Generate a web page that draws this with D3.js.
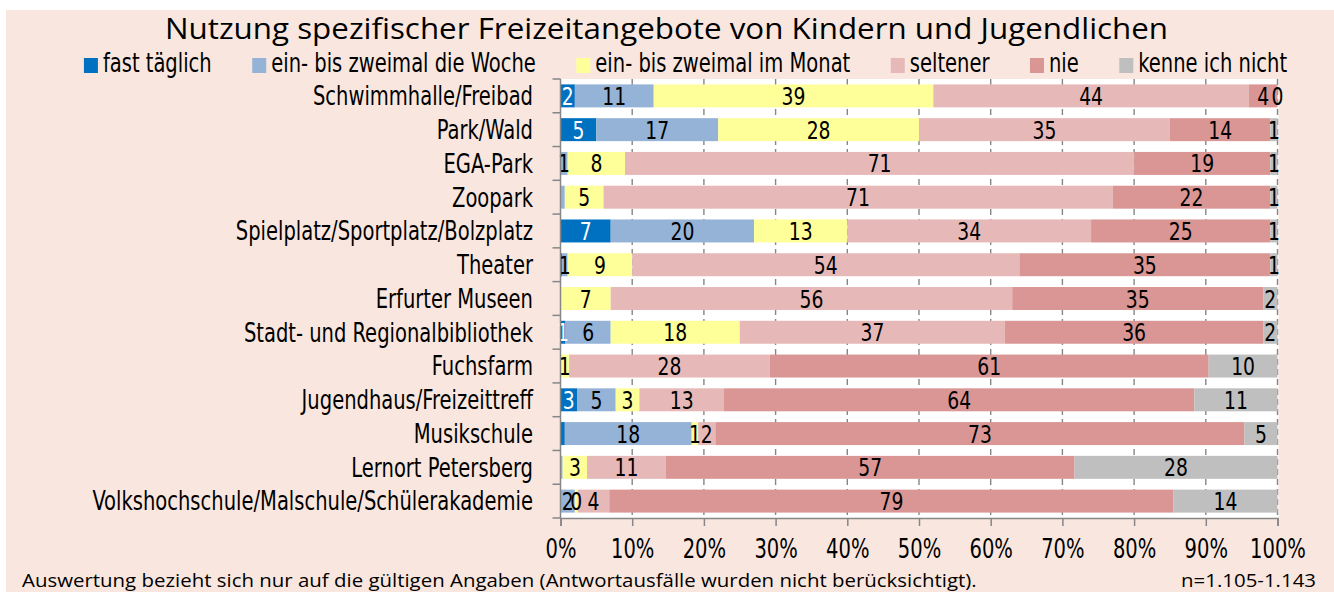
<!DOCTYPE html>
<html><head><meta charset="utf-8">
<script src="https://cdn.jsdelivr.net/npm/d3@7"></script>
<style>
html,body{margin:0;padding:0;background:#fff;}
svg{display:block;}
</style></head><body>
<svg id="chart" width="1334" height="592"></svg>
<script>
// ---------- DATA ----------
const title = "Nutzung spezifischer Freizeitangebote von Kindern und Jugendlichen";
const categories = [
  "Schwimmhalle/Freibad", "Park/Wald", "EGA-Park", "Zoopark",
  "Spielplatz/Sportplatz/Bolzplatz", "Theater", "Erfurter Museen",
  "Stadt- und Regionalbibliothek", "Fuchsfarm", "Jugendhaus/Freizeittreff",
  "Musikschule", "Lernort Petersberg", "Volkshochschule/Malschule/Schülerakademie"
];
const seriesNames = ["fast täglich", "ein- bis zweimal die Woche", "ein- bis zweimal im Monat", "seltener", "nie", "kenne ich nicht"];
const seriesColors = ["#0070C0", "#95B3D7", "#FFFF99", "#E6B9B8", "#D99694", "#BFBFBF"];

// values in percent
const fastTaeglich   = [2, 5, 0, 0, 7, 0.2, 0, 0.7, 0, 2.3, 0.6, 0, 0];
const wochentlich    = [11, 17, 1, 0.6, 20, 0.8, 0, 6.3, 0, 5.4, 17.7, 0.3, 2];
const monatlich      = [39, 28, 8, 5.4, 13, 9, 7, 18, 1.2, 3.3, 0.9, 3.4, 0.4];
const seltener       = [44, 35, 71, 71, 34, 54, 56, 37, 28, 11.8, 2.4, 11, 4.4];
const nie            = [4, 14, 19, 22, 25, 35, 35, 36, 61.2, 65.6, 73.8, 57, 78.7];
const kenneIchNicht  = [0, 1, 1, 1, 1, 1, 2, 2, 9.6, 11.6, 4.6, 28.3, 14.5];

// printed data labels ("" = no label shown)
const fastLabels    = ["2","5","","","7","","","1","","3","","",""];
const wocheLabels   = ["11","17","1","","20","1","","6","","5","18","","2"];
const monatLabels   = ["39","28","8","5","13","9","7","18","1","3","1","3","0"];
const seltenLabels  = ["44","35","71","71","34","54","56","37","28","13","2","11","4"];
const nieLabels     = ["4","14","19","22","25","35","35","36","61","64","73","57","79"];
const kenneLabels   = ["0","1","1","1","1","1","2","2","10","11","5","28","14"];

const xTicks = [0, 10, 20, 30, 40, 50, 60, 70, 80, 90, 100];
const footnote = "Auswertung bezieht sich nur auf die gültigen Angaben (Antwortausfälle wurden nicht berücksichtigt).";
const sampleNote = "n=1.105-1.143";

// ---------- BUILD ----------
const seriesValues = [fastTaeglich, wochentlich, monatlich, seltener, nie, kenneIchNicht];
const seriesLabels = [fastLabels, wocheLabels, monatLabels, seltenLabels, nieLabels, kenneLabels];
const keys = seriesNames;
const table = categories.map((c, i) => {
  const row = {cat: c, idx: i};
  keys.forEach((k, j) => row[k] = seriesValues[j][i]);
  return row;
});
const stacked = d3.stack().keys(keys)(table);

const COND = '"DejaVu Sans Condensed","Liberation Sans Narrow",sans-serif';
const HUM = '"Open Sans","Noto Sans",Lato,sans-serif';
const SX = 0.835; // horizontal squeeze to mimic the condensed face

const svg = d3.select("#chart");
const W = 1334, H = 592;
const plot = {left: 560.5, right: 1277.5, top: 79, bottom: 518};

// background panel
svg.append("rect").attr("x", 6).attr("y", 10).attr("width", W - 6).attr("height", H - 10).attr("fill", "#F9E7DF");

const x = d3.scaleLinear().domain([0, 100]).range([plot.left, plot.right]);
const y = d3.scaleBand().domain(categories).range([plot.top, plot.bottom]).paddingInner(0.32).paddingOuter(0.16);

// plot area
svg.append("rect").attr("x", plot.left).attr("y", plot.top)
  .attr("width", plot.right - plot.left + 1).attr("height", plot.bottom - plot.top).attr("fill", "#fff");

// gridlines
svg.append("g").selectAll("line").data(xTicks.filter(t => t > 0)).join("line")
  .attr("x1", d => x(d)).attr("x2", d => x(d))
  .attr("y1", plot.top).attr("y2", plot.bottom)
  .attr("stroke", "#868686").attr("stroke-width", 1.4).attr("stroke-dasharray", "6,4");

// bars
const gBars = svg.append("g");
stacked.forEach((s, j) => {
  gBars.append("g").attr("fill", seriesColors[j]).selectAll("rect").data(s).join("rect")
    .attr("x", d => x(d[0]))
    .attr("width", d => Math.max(0, x(d[1]) - x(d[0])))
    .attr("y", d => y(d.data.cat))
    .attr("height", y.bandwidth());
});

// data labels
const gLab = svg.append("g").attr("font-family", COND).attr("font-size", 25).attr("text-anchor", "middle");
stacked.forEach((s, j) => {
  gLab.append("g").attr("fill", j === 0 ? "#fff" : "#000").selectAll("text")
    .data(s.filter(d => seriesLabels[j][d.data.idx] !== "")).join("text")
    .attr("transform", d => `translate(${x((d[0] + d[1]) / 2)},${y(d.data.cat) + y.bandwidth() / 2}) scale(${SX},1)`)
    .attr("dy", "0.36em")
    .text(d => seriesLabels[j][d.data.idx]);
});

// left axis (category labels)
const step = y.step();
const gy = svg.append("g").attr("transform", `translate(${plot.left},0)`)
  .call(d3.axisLeft(y).tickSize(0).tickPadding(27));
gy.select(".domain").remove();
gy.selectAll("text").attr("font-family", COND).attr("font-size", 26).attr("fill", "#000").attr("dy", "0.36em")
  .attr("x", null).attr("transform", `translate(-27.5,0) scale(${SX},1)`);
// boundary ticks + axis line
const boundaries = d3.range(categories.length + 1).map(i => plot.top + i * step);
svg.append("g").selectAll("line").data(boundaries).join("line")
  .attr("x1", plot.left - 8).attr("x2", plot.left).attr("y1", d => d).attr("y2", d => d)
  .attr("stroke", "#868686").attr("stroke-width", 1.5);
svg.append("line").attr("x1", plot.left).attr("x2", plot.left).attr("y1", plot.top).attr("y2", plot.bottom)
  .attr("stroke", "#868686").attr("stroke-width", 1.5);

// bottom axis
const gx = svg.append("g").attr("transform", `translate(0,${plot.bottom})`)
  .call(d3.axisBottom(x).tickValues(xTicks).tickSize(8).tickPadding(14).tickFormat(d => d + "%"));
gx.select(".domain").attr("stroke", "#868686").attr("stroke-width", 1.5);
gx.selectAll(".tick line").attr("stroke", "#868686").attr("stroke-width", 1.5);
gx.selectAll("text").attr("font-family", COND).attr("font-size", 26).attr("fill", "#000")
  .attr("transform", `scale(${SX},1)`);

// title
svg.append("text").attr("transform", "translate(666.5,39) scale(1.045,1)").attr("text-anchor", "middle")
  .attr("font-family", HUM).attr("font-size", 30).attr("fill", "#000").text(title);

// legend
const gLeg = svg.append("g").attr("font-family", COND).attr("font-size", 26);
const items = gLeg.selectAll("g").data(seriesNames).join("g");
items.append("rect").attr("width", 14).attr("height", 15).attr("y", 58).attr("fill", (d, i) => seriesColors[i]);
items.append("text").attr("transform", `translate(19,72) scale(${SX},1)`).attr("fill", "#000").text(d => d);
const gap = 40.5;
let widths = [];
items.each(function () { widths.push(this.querySelector("text").getComputedTextLength() * SX + 19); });
const total = d3.sum(widths) + gap * (widths.length - 1);
let cx = 685.5 - total / 2;
items.attr("transform", (d, i) => { const t = `translate(${cx},0)`; cx += widths[i] + gap; return t; });

// footnotes
svg.append("text").attr("transform", "translate(22,587) scale(1.075,1)").attr("font-family", HUM).attr("font-size", 19).attr("fill", "#000").text(footnote);
svg.append("text").attr("transform", "translate(1316,587) scale(1.075,1)").attr("text-anchor", "end").attr("font-family", HUM).attr("font-size", 19).attr("fill", "#000").text(sampleNote);
</script>
</body></html>
